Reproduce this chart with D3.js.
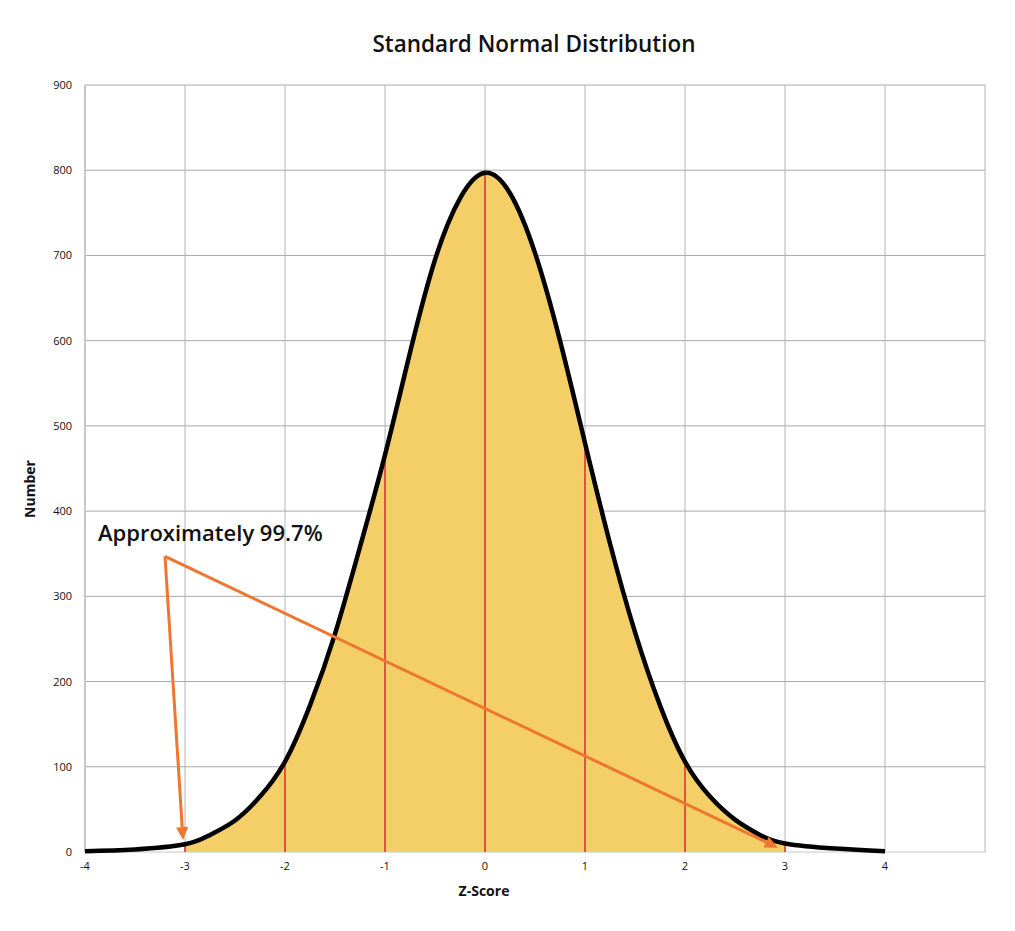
<!DOCTYPE html>
<html>
<head>
<meta charset="utf-8">
<script src="https://cdn.jsdelivr.net/npm/d3@7"></script>
<style>
  body { margin: 0; background: #fff; }
  svg { font-family: "Open Sans", Lato, sans-serif; }
</style>
</head>
<body>
<svg id="chart" width="1015" height="931"></svg>
<script>
// curve points (every quarter z-score)
const zScores = [-4, -3.5, -3, -2.75, -2.5, -2.25, -2, -1.75, -1.5, -1.25, -1, -0.75, -0.5, -0.25, 0, 0.25, 0.5, 0.75, 1, 1.25, 1.5, 1.75, 2, 2.25, 2.5, 2.75, 3, 3.5, 4]
const counts = [1, 3, 9, 20, 37, 65, 106, 172, 256, 358, 466, 586, 695, 767, 797, 773, 703, 600, 480, 362, 258, 172, 106, 65, 38, 20, 10, 4, 1]

// red drop lines
const dropZ = [-3, -2, -1, 0, 1, 2, 3]
const dropHeights = [9, 106, 466, 797, 477, 106, 10]

const xTicks = [-4, -3, -2, -1, 0, 1, 2, 3, 4]
const xGrid = [-4, -3, -2, -1, 0, 1, 2, 3, 4, 5]
const yTicks = [0, 100, 200, 300, 400, 500, 600, 700, 800, 900]

// annotation: label anchor and arrow tips in data units
const noteText = "Approximately 99.7%"
const noteFrom = [-3.2, 347]
const noteTips = [[-3.02, 14], [2.93, 5]]

const margin = { top: 85, right: 30, bottom: 79, left: 85 },
    width = 1015 - margin.left - margin.right,
    height = 931 - margin.top - margin.bottom;

const svg = d3.select("#chart")
const g = svg.append("g")
    .attr("transform", "translate(" + margin.left + "," + margin.top + ")");

const x = d3.scaleLinear().domain([-4, 5]).range([0, width]);
const y = d3.scaleLinear().domain([0, 900]).range([height, 0]);

// title
svg.append("text")
    .attr("x", 534).attr("y", 52)
    .attr("text-anchor", "middle")
    .attr("font-size", 22.5).attr("font-weight", 600)
    .attr("fill", "#111")
    .text("Standard Normal Distribution");

// grid
g.selectAll(".hgrid")
    .data(yTicks)
    .enter().append("line")
    .attr("x1", 0).attr("x2", width)
    .attr("y1", d => y(d)).attr("y2", d => y(d))
    .attr("stroke", d => d === 0 ? "#c8c8c8" : "#a9a9a9")
    .attr("stroke-width", 1);

g.selectAll(".vgrid")
    .data(xGrid)
    .enter().append("line")
    .attr("x1", d => x(d)).attr("x2", d => x(d))
    .attr("y1", 0).attr("y2", height)
    .attr("stroke", d => d === -4 ? "#c8c8c8" : "#b4b4b4")
    .attr("stroke-width", d => d === -4 ? 2 : 1);

// tick labels
g.selectAll(".ylab")
    .data(yTicks)
    .enter().append("text")
    .attr("x", -13).attr("y", d => y(d) + 4)
    .attr("text-anchor", "end")
    .attr("font-size", 11).attr("fill", "#111")
    .text(d => d);

g.selectAll(".xlab")
    .data(xTicks)
    .enter().append("text")
    .attr("x", d => x(d)).attr("y", height + 18)
    .attr("text-anchor", "middle")
    .attr("font-size", 11).attr("fill", "#111")
    .text(d => d);

// axis titles
svg.append("text")
    .attr("transform", "translate(35,489) rotate(-90)")
    .attr("text-anchor", "middle")
    .attr("font-size", 14).attr("font-weight", 700)
    .attr("fill", "#111")
    .text("Number");

svg.append("text")
    .attr("x", 484).attr("y", 896)
    .attr("text-anchor", "middle")
    .attr("font-size", 14).attr("font-weight", 700)
    .attr("fill", "#111")
    .text("Z-Score");

const pts = zScores.map((z, i) => [z, counts[i]]);
const smooth = d3.curveNatural;

// shaded area between -3 and 3
g.append("clipPath").attr("id", "mid")
    .append("rect")
    .attr("x", x(-3)).attr("y", 0)
    .attr("width", x(3) - x(-3)).attr("height", height);

g.append("path")
    .datum(pts)
    .attr("clip-path", "url(#mid)")
    .attr("fill", "#F4CF67")
    .attr("d", d3.area().curve(smooth)
        .x(d => x(d[0])).y0(y(0)).y1(d => y(d[1])));

// drop lines
g.selectAll(".drop")
    .data(dropZ)
    .enter().append("line")
    .attr("x1", d => x(d)).attr("x2", d => x(d))
    .attr("y1", y(0)).attr("y2", (d, i) => y(dropHeights[i]))
    .attr("stroke", "#E4523B").attr("stroke-width", 2);

// curve
g.append("path")
    .datum(pts)
    .attr("fill", "none")
    .attr("stroke", "#000").attr("stroke-width", 4.5)
    .attr("stroke-linejoin", "round")
    .attr("d", d3.line().curve(smooth)
        .x(d => x(d[0])).y(d => y(d[1])));

// annotation arrows
const orange = "#EE7631";
noteTips.forEach(t => {
    const x0 = x(noteFrom[0]), y0 = y(noteFrom[1]);
    const x1 = x(t[0]), y1 = y(t[1]);
    const a = Math.atan2(y1 - y0, x1 - x0);
    const len = 13, half = 6;
    const bx = x1 - len * Math.cos(a), by = y1 - len * Math.sin(a);
    g.append("line")
        .attr("x1", x0).attr("y1", y0)
        .attr("x2", bx).attr("y2", by)
        .attr("stroke", orange).attr("stroke-width", 3);
    g.append("path")
        .attr("fill", orange)
        .attr("d", "M" + x1 + "," + y1 +
            "L" + (bx - half * Math.sin(a)) + "," + (by + half * Math.cos(a)) +
            "L" + (bx + half * Math.sin(a)) + "," + (by - half * Math.cos(a)) + "Z");
});

g.append("text")
    .attr("x", x(noteFrom[0]) - 67).attr("y", y(noteFrom[1]) - 15)
    .attr("font-size", 22).attr("font-weight", 600)
    .attr("fill", "#111")
    .text(noteText);
</script>
</body>
</html>
